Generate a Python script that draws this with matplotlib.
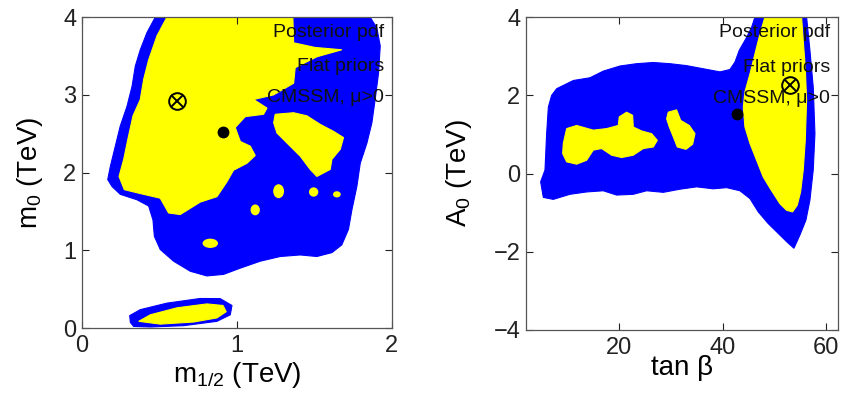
import matplotlib
matplotlib.use("Agg")
import matplotlib.pyplot as plt
from matplotlib.patches import Polygon, Ellipse

plt.rcParams['font.family'] = ['Liberation Sans', 'DejaVu Sans']
plt.rcParams['mathtext.default'] = 'regular'

# ---------------- (m_1/2, m_0) plane, TeV ----------------
# outer (2D 95%) credible region
m12_outer = [0.473, 0.419, 0.376, 0.344, 0.323, 0.290, 0.247, 0.215, 0.183, 0.166, 0.194,
             0.247, 0.355, 0.430, 0.458, 0.467, 0.505, 0.591, 0.699, 0.806, 0.914, 1.021,
             1.151, 1.280, 1.409, 1.516, 1.613, 1.677, 1.720, 1.742, 1.774, 1.796, 1.839,
             1.871, 1.892, 1.914, 1.925, 1.903, 1.860]
m0_outer = [4.00, 3.80, 3.58, 3.37, 3.11, 2.85, 2.60, 2.34, 2.08, 1.91, 1.82,
            1.72, 1.65, 1.57, 1.39, 1.18, 1.01, 0.86, 0.73, 0.67, 0.69, 0.77,
            0.86, 0.92, 0.94, 0.92, 0.97, 1.07, 1.27, 1.52, 1.82, 2.12, 2.38,
            2.64, 2.94, 3.28, 3.63, 3.86, 4.00]
# inner (2D 68%) credible region
m12_inner = [0.548, 0.484, 0.430, 0.398, 0.376, 0.329, 0.295, 0.269, 0.239, 0.273, 0.376,
             0.505, 0.559, 0.634, 0.763, 0.871, 0.935, 0.978, 1.065, 1.118, 1.086, 1.022,
             0.989, 1.054, 1.172, 1.194, 1.108, 1.237, 1.366, 1.376, 1.516, 1.677, 1.505,
             1.366, 1.361]
m0_inner = [4.00, 3.76, 3.45, 3.20, 2.94, 2.73, 2.42, 2.17, 1.95, 1.78, 1.73,
            1.67, 1.48, 1.46, 1.62, 1.69, 1.88, 2.03, 2.12, 2.22, 2.34, 2.40,
            2.58, 2.72, 2.75, 2.83, 2.94, 3.00, 3.15, 3.35, 3.49, 3.58, 3.61,
            3.67, 4.00]
m12_island = [1.247, 1.366, 1.452, 1.538, 1.624, 1.688, 1.667, 1.613, 1.602, 1.516, 1.473,
              1.409, 1.323, 1.258, 1.237]
m0_island = [2.75, 2.77, 2.73, 2.62, 2.53, 2.45, 2.30, 2.17, 2.04, 1.95, 2.04,
             2.21, 2.38, 2.51, 2.64]
# small inner patches: centre and half-widths
blob_m12 = [1.269, 1.495, 1.645, 1.118, 0.828]
blob_m0 = [1.76, 1.75, 1.72, 1.52, 1.09]
blob_dm12 = [0.035, 0.030, 0.025, 0.030, 0.050]
blob_dm0 = [0.09, 0.06, 0.04, 0.07, 0.06]
# low-m0 (stau coannihilation) region
m12_low_outer = [0.312, 0.308, 0.376, 0.548, 0.763, 0.892, 0.968, 0.957, 0.871, 0.656,
                 0.441, 0.333]
m0_low_outer = [0.073, 0.160, 0.236, 0.320, 0.380, 0.378, 0.290, 0.170, 0.086, 0.030,
                0.013, 0.020]
m12_low_inner = [0.366, 0.441, 0.613, 0.806, 0.910, 0.931, 0.871, 0.720, 0.505]
m0_low_inner = [0.086, 0.170, 0.260, 0.310, 0.290, 0.210, 0.130, 0.077, 0.050]
# best fit and posterior mean
m12_best, m0_best = 0.613, 2.92
m12_mean, m0_mean = 0.910, 2.52

# ---------------- (tan beta, A_0) plane ----------------
tb_outer = [5.35, 4.83, 5.67, 5.99, 6.32, 6.96, 7.93, 11.15, 14.37, 16.94, 20.16, 23.38,
            26.60, 29.83, 33.05, 36.27, 39.49, 41.42, 42.39, 43.22, 44.51, 45.61, 46.25,
            56.24, 56.88, 57.52, 57.85, 57.52, 56.88, 56.11, 54.95, 53.79, 52.37, 50.76,
            48.83, 46.90, 45.29, 43.35, 40.78, 38.20, 34.98, 31.76, 28.54, 25.32, 22.74,
            19.52, 16.94, 13.72, 10.50, 7.28]
a0_outer = [-0.61, -0.21, 0.09, 1.02, 1.70, 2.00, 2.17, 2.38, 2.45, 2.62, 2.75, 2.81,
            2.84, 2.81, 2.76, 2.68, 2.60, 2.66, 2.85, 3.15, 3.45, 3.74, 4.00,
            4.00, 3.15, 2.21, 1.02, 0.09, -0.68, -1.19, -1.57, -1.91, -1.74, -1.53,
            -1.28, -0.98, -0.64, -0.44, -0.36, -0.39, -0.34, -0.40, -0.48, -0.44, -0.53,
            -0.55, -0.44, -0.47, -0.53, -0.66]
tb_inner = [48.18, 47.22, 46.25, 45.29, 44.32, 44.00, 44.32, 45.29, 46.57, 47.86, 49.47,
            51.08, 52.37, 53.53, 54.43, 55.08, 55.59, 55.98, 56.24, 55.98, 55.59, 55.27]
a0_inner = [4.00, 3.57, 3.06, 2.55, 2.09, 1.70, 1.19, 0.77, 0.34, -0.09, -0.44,
            -0.77, -0.94, -0.98, -0.81, -0.47, 0.09, 0.85, 1.87, 2.72, 3.40, 4.00]
tb_island1 = [9.21, 9.86, 11.79, 15.01, 17.59, 19.84, 20.03, 21.45, 22.61, 22.74, 24.35,
              26.28, 27.38, 26.61, 24.67, 22.74, 20.49, 18.55, 16.62, 15.01, 13.72, 11.79,
              9.86, 9.09]
a0_island1 = [0.77, 1.15, 1.23, 1.11, 1.15, 1.23, 1.45, 1.57, 1.49, 1.19, 1.09,
              1.02, 0.85, 0.68, 0.64, 0.47, 0.41, 0.47, 0.64, 0.60, 0.34, 0.24,
              0.30, 0.51]
tb_island2 = [29.50, 31.11, 31.89, 33.56, 34.66, 34.21, 32.92, 31.24, 30.47, 29.70, 29.18]
a0_island2 = [1.57, 1.63, 1.36, 1.23, 1.02, 0.75, 0.62, 0.68, 0.94, 1.19, 1.40]
tb_best, a0_best = 53.0, 2.26
tb_mean, a0_mean = 42.7, 1.53

labels = ["Posterior pdf", "Flat priors", "CMSSM, \u03bc>0"]

OUTER = "#0000ff"
INNER = "#ffff00"

fig = plt.figure(figsize=(8.42, 3.95), dpi=100)
ax1 = fig.add_axes([0.0974, 0.1696, 0.368, 0.787])
ax2 = fig.add_axes([0.6247, 0.1646, 0.3705, 0.792])


def region(ax, xs, ys, color):
    ax.add_patch(Polygon(list(zip(xs, ys)), closed=True, facecolor=color,
                         edgecolor=color, linewidth=0.8))


def markers(ax, xb, yb, xm, ym):
    ax.plot([xb], [yb], marker='o', ms=12, mfc='none', mec='black', mew=1.4, zorder=5)
    ax.plot([xb], [yb], marker='x', ms=8, mec='black', mew=1.4, zorder=5)
    ax.plot([xm], [ym], marker='o', ms=7.5, color='black', zorder=5)


def style(ax):
    ax.tick_params(direction='in', length=5, width=0.8, top=True, right=True,
                   labelsize=17, colors='#222222')
    ax.tick_params(axis='x', pad=5)
    ax.tick_params(axis='y', pad=4)
    for sp in ax.spines.values():
        sp.set_linewidth(0.9)
        sp.set_color('#555555')
    ys = [0.95, 0.84, 0.74]
    for lab, y in zip(labels, ys):
        ax.text(0.975, y, lab, transform=ax.transAxes, ha='right', va='center',
                fontsize=14, color='#111111', zorder=6)


# left panel
region(ax1, m12_outer, m0_outer, OUTER)
region(ax1, m12_inner, m0_inner, INNER)
region(ax1, m12_island, m0_island, INNER)
for cx, cy, dx, dy in zip(blob_m12, blob_m0, blob_dm12, blob_dm0):
    ax1.add_patch(Ellipse((cx, cy), 2 * dx, 2 * dy, facecolor=INNER, edgecolor='none'))
region(ax1, m12_low_outer, m0_low_outer, OUTER)
region(ax1, m12_low_inner, m0_low_inner, INNER)
markers(ax1, m12_best, m0_best, m12_mean, m0_mean)
ax1.set_xlim(0, 2)
ax1.set_ylim(0, 4)
ax1.set_xticks([0, 1, 2])
ax1.set_yticks([0, 1, 2, 3, 4])
ax1.set_xlabel("m$_{1/2}$ (TeV)", fontsize=20, labelpad=2)
ax1.set_ylabel("m$_0$ (TeV)", fontsize=20, labelpad=13)
style(ax1)

# right panel
region(ax2, tb_outer, a0_outer, OUTER)
region(ax2, tb_inner, a0_inner, INNER)
region(ax2, tb_island1, a0_island1, INNER)
region(ax2, tb_island2, a0_island2, INNER)
markers(ax2, tb_best, a0_best, tb_mean, a0_mean)
ax2.set_xlim(2, 62.3)
ax2.set_ylim(-4, 4)
ax2.set_xticks([20, 40, 60])
ax2.set_yticks([-4, -2, 0, 2, 4])
ax2.set_xlabel("tan \u03b2", fontsize=20, labelpad=-3)
ax2.set_ylabel("A$_0$ (TeV)", fontsize=20, labelpad=14)
style(ax2)

fig.savefig("out.png", dpi=100)
